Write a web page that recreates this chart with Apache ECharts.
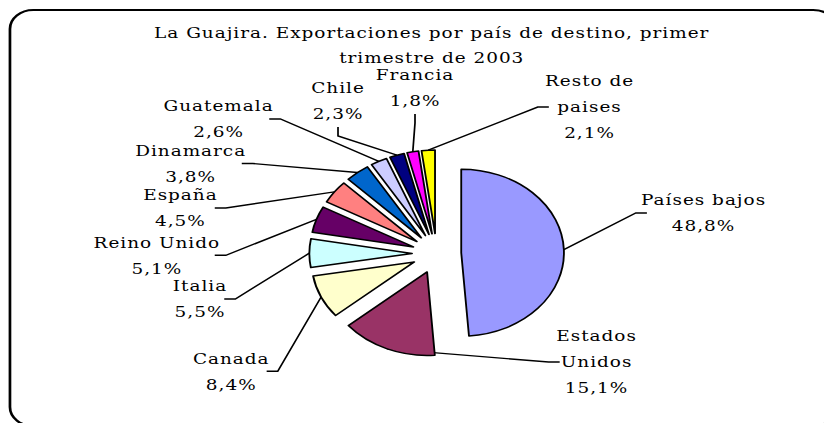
<!DOCTYPE html>
<html>
<head>
<meta charset="utf-8">
<script src="https://cdn.jsdelivr.net/npm/echarts@6/dist/echarts.min.js"></script>
<style>
    html, body { margin: 0; padding: 0; background: #fff; overflow: hidden; }
    /* the source image was stretched sideways, so the whole chart is too */
    #chart { width: 670px; height: 423px; transform: scaleX(1.23); transform-origin: 0 0; }
    #chart text { letter-spacing: 0.8px; }
</style>
</head>
<body>
<div id="chart"></div>
<script>
var countries = ['Países bajos', 'Estados Unidos', 'Canada', 'Italia', 'Reino Unido', 'España',
    'Dinamarca', 'Guatemala', 'Chile', 'Francia', 'Resto de paises'];
var shares = [48.8, 15.1, 8.4, 5.5, 5.1, 4.5, 3.8, 2.6, 2.3, 1.8, 2.1];
var sliceColors = ['#9999FF', '#993366', '#FFFFCC', '#CCFFFF', '#660066', '#FF8080',
    '#0066CC', '#CCCCFF', '#000080', '#FF00FF', '#FFFF00'];
var titleLines = ['La Guajira. Exportaciones por país de destino, primer', 'trimestre de 2003'];

// label boxes as placed in the original (center x, top y), before the stretch
var labelSpots = [[572, 187], [485, 323], [188, 345.3], [162.6, 273], [127.5, 229.3], [146.7, 182],
    [155, 137.5], [177.7, 93], [274.8, 75], [337.4, 62], [479.3, 68]];
var wrapped = {'Estados Unidos': 'Estados\nUnidos', 'Resto de paises': 'Resto de\npaises'};

var font = 'DejaVu Serif';
var pieCenter = [355, 253.5];
var pieRadius = 83.5;
var explode = 20;

var myChart = echarts.init(document.getElementById('chart'), null, {renderer: 'svg'});

var option = {
    animation: false,
    graphic: [
        {
            type: 'rect',
            z: -1,
            shape: {x: 8.1, y: 10, width: 672, height: 416, r: 19},
            style: {fill: 'none', stroke: '#000', lineWidth: 2.2}
        },
        {
            type: 'text',
            x: 351,
            y: 20,
            style: {
                text: titleLines.join('\n'),
                fontFamily: font,
                fontSize: 15,
                lineHeight: 25,
                align: 'center',
                verticalAlign: 'top',
                fill: '#000'
            }
        }
    ],
    series: [
        {
            // exploded slices
            type: 'pie',
            center: pieCenter,
            radius: pieRadius,
            startAngle: 90,
            clockwise: true,
            selectedMode: 'multiple',
            selectedOffset: explode,
            silent: true,
            itemStyle: {borderColor: '#000', borderWidth: 1.5},
            select: {itemStyle: {borderColor: '#000', borderWidth: 1.5}},
            label: {show: false},
            labelLine: {show: false},
            data: countries.map(function (n, i) {
                return {name: n, value: shares[i], selected: true, itemStyle: {color: sliceColors[i]}};
            })
        },
        {
            // same slices, unseen, reaching to the exploded rims; they carry the labels
            type: 'pie',
            center: pieCenter,
            radius: pieRadius + explode,
            startAngle: 90,
            clockwise: true,
            silent: true,
            avoidLabelOverlap: false,
            itemStyle: {color: 'rgba(0,0,0,0)', borderWidth: 0},
            label: {
                show: true,
                position: 'outside',
                fontFamily: font,
                fontSize: 15,
                lineHeight: 26,
                color: '#000',
                opacity: 1,
                align: 'center',
                formatter: function (p) {
                    var name = wrapped[p.name] || p.name;
                    return name + '\n' + p.value.toFixed(1).replace('.', ',') + '%';
                }
            },
            labelLine: {
                show: true,
                length: 10,
                length2: 9,
                lineStyle: {color: '#000', width: 1.4, opacity: 1}
            },
            labelLayout: function (p) {
                var s = labelSpots[p.dataIndex];
                return {x: s[0], y: s[1], align: 'center', verticalAlign: 'top'};
            },
            data: countries.map(function (n, i) {
                return {name: n, value: shares[i]};
            })
        }
    ]
};

myChart.setOption(option);
</script>
</body>
</html>
